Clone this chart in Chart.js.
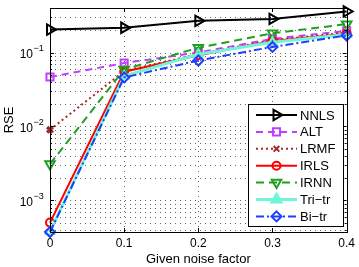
<!DOCTYPE html>
<html lang="en">
<head>
  <meta charset="UTF-8">
  <title>RSE vs noise factor</title>
  <script src="https://cdn.jsdelivr.net/npm/chart.js"></script>
  <style>
    body { margin: 0; background: #fff; }
    #wrap { width: 359px; height: 267px; }
  </style>
</head>
<body>
  <div id="wrap"><canvas id="rseChart"></canvas></div>
  <script>
    const noiseFactors = [0, 0.1, 0.2, 0.3, 0.4];
    const nnls  = [0.204, 0.216, 0.268, 0.285, 0.36];
    const alt   = [0.0466, 0.072, 0.1, 0.153, 0.196];
    const lrmf  = [0.009, 0.056, 0.095, 0.147, 0.185];
    const irls  = [0.0005, 0.055, 0.092, 0.143, 0.18];
    const irnn  = [0.0031, 0.059, 0.116, 0.182, 0.242];
    const tritr = [0.00038, 0.048, 0.095, 0.138, 0.175];
    const bitr  = [0.000373, 0.046, 0.078, 0.119, 0.17];

    const seriesNames = ['NNLS', 'ALT', 'LRMF', 'IRLS', 'IRNN', 'Tri\u2212tr', 'Bi\u2212tr'];
    const xTickValues = [0, 0.1, 0.2, 0.3, 0.4];
    const yTickExponents = [-3, -2, -1];
    const yMin = 0.000373;
    const yMax = 0.4;

    // log grid: 4e-4 .. 9e-4, 1e-3 .. 9e-3, 1e-2 .. 9e-2, 0.1 .. 0.4
    const yGridValues = [];
    for (let e = -4; e <= -1; e++) {
      for (let s = 1; s <= 9; s++) {
        const v = s * Math.pow(10, e);
        if (v >= yMin * 0.999 && v <= yMax * 1.001) yGridValues.push(v);
      }
    }

    const styles = [
      { color: '#000000', dash: [], width: 2, point: 'triangle', rot: 90, radius: 6 },
      { color: '#bf40ff', dash: [7, 5], width: 2, point: 'rect', rot: 0, radius: 5 },
      { color: '#a52a2a', dash: [2, 3], width: 2, point: 'crossRot', rot: 0, radius: 4 },
      { color: '#ff0000', dash: [], width: 2, point: 'circle', rot: 0, radius: 4 },
      { color: '#1fa01f', dash: [8, 5], width: 2, point: 'triangle', rot: 180, radius: 5.5 },
      { color: '#70f5d8', dash: [], width: 3, point: 'triangle', rot: 0, radius: 5 },
      { color: '#1f3fff', dash: [8, 3, 2, 3], width: 2, point: 'rectRot', rot: 0, radius: 5 }
    ];
    const seriesData = [nnls, alt, lrmf, irls, irnn, tritr, bitr];

    const datasets = seriesData.map((vals, i) => {
      const s = styles[i];
      return {
        label: seriesNames[i],
        data: noiseFactors.map((x, j) => ({ x: x, y: vals[j] })),
        borderColor: s.color,
        borderWidth: s.width,
        borderDash: s.dash,
        pointStyle: s.point,
        pointRotation: s.rot,
        pointRadius: s.radius,
        pointBorderWidth: s.point === 'crossRot' ? 3.5 : 2,
        pointBorderColor: s.color,
        pointBackgroundColor: 'rgba(0,0,0,0)',
        tension: 0,
        clip: false,
        order: seriesData.length - i
      };
    });

    function drawPointStyle(ctx, s, x, y) {
      ctx.save();
      ctx.setLineDash([]);
      ctx.strokeStyle = s.color;
      ctx.fillStyle = 'rgba(0,0,0,0)';
      Chart.helpers.drawPoint(ctx, {
        pointStyle: s.point,
        rotation: s.rot,
        radius: s.radius,
        borderWidth: s.point === 'crossRot' ? 3.5 : 2
      }, x, y);
      ctx.restore();
    }

    const gridPlugin = {
      id: 'dottedGrid',
      beforeDatasetsDraw(chart) {
        const ctx = chart.ctx;
        const a = chart.chartArea;
        const xs = chart.scales.x;
        const ys = chart.scales.y;
        ctx.save();
        ctx.strokeStyle = 'rgba(0,0,0,0.6)';
        ctx.lineWidth = 1;
        ctx.setLineDash([1, 4]);
        ctx.beginPath();
        yGridValues.forEach(v => {
          const py = Math.round(ys.getPixelForValue(v)) + 0.5;
          ctx.moveTo(a.left, py);
          ctx.lineTo(a.right, py);
        });
        xTickValues.slice(1, -1).forEach(v => {
          const px = Math.round(xs.getPixelForValue(v)) + 0.5;
          ctx.moveTo(px, a.bottom);
          ctx.lineTo(px, a.top);
        });
        ctx.stroke();
        ctx.restore();
      }
    };

    const framePlugin = {
      id: 'frame',
      afterDatasetsDraw(chart) {
        const ctx = chart.ctx;
        const a = chart.chartArea;
        const xs = chart.scales.x;
        const ys = chart.scales.y;
        ctx.save();
        ctx.strokeStyle = '#000';
        ctx.lineWidth = 1;
        ctx.setLineDash([]);

        // inward tick marks on all four sides
        ctx.beginPath();
        yGridValues.forEach(v => {
          const py = Math.round(ys.getPixelForValue(v)) + 0.5;
          const major = yTickExponents.some(e => Math.abs(v - Math.pow(10, e)) < v * 1e-6);
          const len = major ? 4 : 2;
          ctx.moveTo(a.left, py); ctx.lineTo(a.left + len, py);
          ctx.moveTo(a.right, py); ctx.lineTo(a.right - len, py);
        });
        xTickValues.forEach(v => {
          const px = Math.round(xs.getPixelForValue(v)) + 0.5;
          ctx.moveTo(px, a.bottom); ctx.lineTo(px, a.bottom - 4);
          ctx.moveTo(px, a.top); ctx.lineTo(px, a.top + 4);
        });
        ctx.stroke();
        ctx.strokeRect(Math.round(a.left) + 0.5, Math.round(a.top) + 0.5,
          Math.round(a.right - a.left), Math.round(a.bottom - a.top));

        // y tick labels as 10 with a raised exponent
        ctx.fillStyle = '#000';
        ctx.textBaseline = 'middle';
        yTickExponents.forEach(e => {
          const py = ys.getPixelForValue(Math.pow(10, e));
          ctx.font = '12px "Liberation Sans", Arial, sans-serif';
          ctx.textAlign = 'right';
          ctx.fillText('10', 33, py + 2);
          ctx.font = '9px "Liberation Sans", Arial, sans-serif';
          ctx.textAlign = 'left';
          ctx.fillText('\u2212' + Math.abs(e), 33.5, py - 4);
        });

        // legend box
        const bx = 248, by = 104, bw = 95, bh = 122;
        ctx.fillStyle = '#fff';
        ctx.fillRect(bx, by, bw, bh);
        ctx.strokeRect(bx + 0.5, by + 0.5, bw, bh);
        styles.forEach((s, i) => {
          const ly = 115 + i * 16.9;
          ctx.strokeStyle = s.color;
          ctx.lineWidth = s.width;
          ctx.setLineDash(s.dash);
          ctx.beginPath();
          ctx.moveTo(256, ly);
          ctx.lineTo(297, ly);
          ctx.stroke();
          drawPointStyle(ctx, s, 276.5, ly);
          ctx.fillStyle = '#000';
          ctx.font = '13px "Liberation Sans", Arial, sans-serif';
          ctx.textAlign = 'left';
          ctx.textBaseline = 'middle';
          ctx.fillText(seriesNames[i], 300, ly + 1);
        });
        ctx.restore();
      }
    };

    new Chart(document.getElementById('rseChart'), {
      type: 'line',
      data: { datasets: datasets },
      options: {
        responsive: true,
        maintainAspectRatio: false,
        animation: false,
        layout: { padding: { top: 2, right: 9, bottom: 0, left: 0 } },
        plugins: { legend: { display: false }, tooltip: { enabled: false } },
        scales: {
          x: {
            type: 'linear',
            min: 0,
            max: 0.4,
            afterBuildTicks: scale => { scale.ticks = xTickValues.map(v => ({ value: v })); },
            afterFit: scale => { scale.height = 35; },
            border: { display: false },
            grid: { display: false, drawTicks: false },
            ticks: {
              padding: 4,
              color: '#000',
              font: { family: '"Liberation Sans", Arial, sans-serif', size: 12 },
              callback: v => String(Math.round(v * 10) / 10)
            },
            title: {
              display: true,
              text: 'Given noise factor',
              color: '#000',
              font: { family: '"Liberation Sans", Arial, sans-serif', size: 13 },
              padding: { top: 2, bottom: 0 }
            }
          },
          y: {
            type: 'logarithmic',
            min: yMin,
            max: yMax,
            afterBuildTicks: scale => { scale.ticks = yGridValues.map(v => ({ value: v })); },
            afterFit: scale => { scale.width = 50; },
            border: { display: false },
            grid: { display: false, drawTicks: false },
            ticks: { callback: () => '', padding: 0 },
            title: {
              display: true,
              text: 'RSE',
              color: '#000',
              font: { family: '"Liberation Sans", Arial, sans-serif', size: 13 },
              padding: { top: 2, bottom: 0 }
            }
          }
        }
      },
      plugins: [gridPlugin, framePlugin]
    });
  </script>
</body>
</html>
